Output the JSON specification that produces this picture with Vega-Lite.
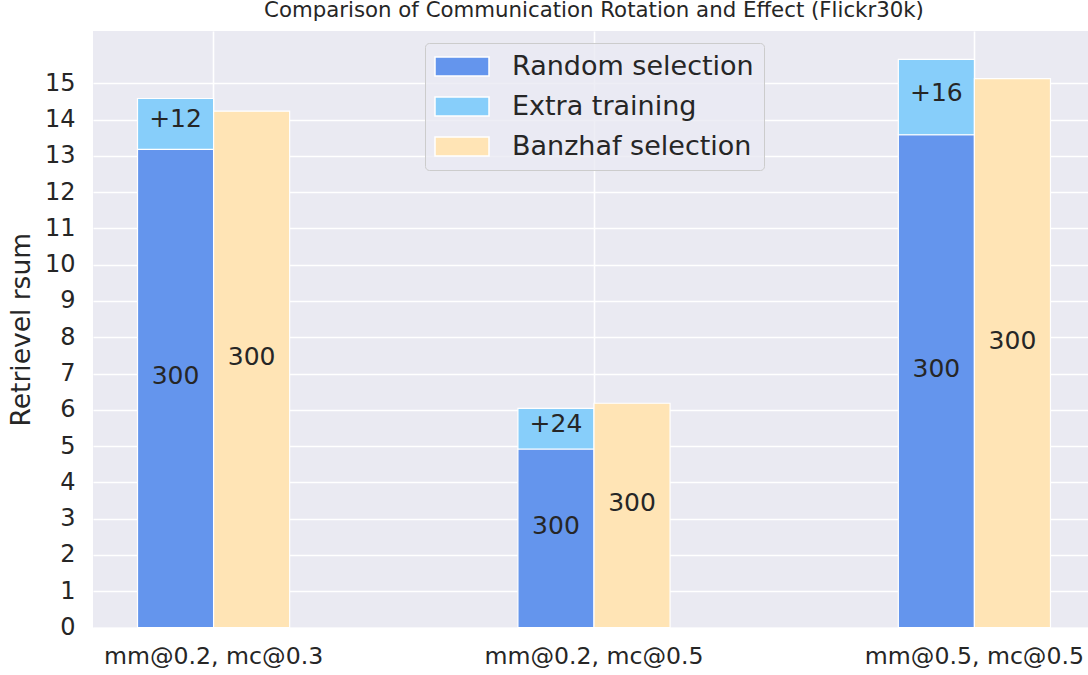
{
  "$schema": "https://vega.github.io/schema/vega-lite/v6.json",
  "width": 995,
  "height": 596.5,
  "autosize": {"type": "none"},
  "padding": {"left": 93, "top": 31, "right": 0, "bottom": 47},
  "background": "white",
  "title": {
    "text": "Comparison of Communication Rotation and Effect (Flickr30k)",
    "fontSize": 21.3, "fontWeight": "normal", "font": "DejaVu Sans", "color": "#262626",
    "baseline": "alphabetic", "offset": 11, "anchor": "middle", "frame": "group", "dx": 3.5, "dy": 18.5
  },
  "config": {
    "view": {"fill": "#EAEAF2", "stroke": null},
    "font": "DejaVu Sans",
    "axis": {
      "domain": false, "ticks": false, "gridColor": "white", "gridWidth": 1.6,
      "labelColor": "#262626", "labelFont": "DejaVu Sans",
      "titleColor": "#262626", "titleFont": "DejaVu Sans", "titleFontWeight": "normal"
    }
  },
  "data": {
    "values": [
      {"group": "mm@0.2, mc@0.3", "method": "Random", "series": "Random selection", "value": 13.18, "label": "300"},
      {"group": "mm@0.2, mc@0.3", "method": "Random", "series": "Extra training", "value": 1.40, "label": "+12"},
      {"group": "mm@0.2, mc@0.3", "method": "Banzhaf", "series": "Banzhaf selection", "value": 14.23, "label": "300"},
      {"group": "mm@0.2, mc@0.5", "method": "Random", "series": "Random selection", "value": 4.92, "label": "300"},
      {"group": "mm@0.2, mc@0.5", "method": "Random", "series": "Extra training", "value": 1.12, "label": "+24"},
      {"group": "mm@0.2, mc@0.5", "method": "Banzhaf", "series": "Banzhaf selection", "value": 6.18, "label": "300"},
      {"group": "mm@0.5, mc@0.5", "method": "Random", "series": "Random selection", "value": 13.58, "label": "300"},
      {"group": "mm@0.5, mc@0.5", "method": "Random", "series": "Extra training", "value": 2.08, "label": "+16"},
      {"group": "mm@0.5, mc@0.5", "method": "Banzhaf", "series": "Banzhaf selection", "value": 15.13, "label": "300"}
    ]
  },
  "encoding": {
    "x": {
      "field": "group", "type": "nominal", "sort": null,
      "scale": {"paddingInner": 0.6, "paddingOuter": 0.117, "range": [0, 1002]},
      "axis": {"title": null, "labelAngle": 0, "labelFontSize": 23.6, "labelPadding": 16.5, "labelLimit": 400, "grid": true, "bandPosition": 0.5}
    },
    "xOffset": {"field": "method", "type": "nominal", "scale": {"domain": ["Random", "Banzhaf"]}},
    "y": {
      "field": "value", "type": "quantitative", "stack": "zero",
      "scale": {"domain": [0, 16.44], "nice": false, "zero": true},
      "axis": {
        "title": "Retrievel rsum", "titleFontSize": 26.5, "titlePadding": 9,
        "values": [0,1,2,3,4,5,6,7,8,9,10,11,12,13,14,15],
        "labelFontSize": 24, "labelPadding": 18, "grid": true
      }
    },
    "order": {"field": "series", "sort": "descending"}
  },
  "layer": [
    {
      "mark": {"type": "bar", "stroke": "white", "strokeWidth": 1.2, "opacity": 1},
      "encoding": {
        "color": {
          "field": "series", "type": "nominal",
          "scale": {"domain": ["Random selection", "Extra training", "Banzhaf selection"], "range": ["#6495ED", "#87CEFA", "#FFE4B5"]},
          "legend": {
            "title": null, "orient": "none", "legendX": 332, "legendY": 12,
            "symbolType": "M-1.35,-0.95H4.05V0.95H-1.35Z", "symbolSize": 400,
            "symbolStrokeColor": "white", "symbolStrokeWidth": 1.5, "symbolOpacity": 1,
            "labelFontSize": 27, "labelFont": "DejaVu Sans", "labelColor": "#262626",
            "labelOffset": 50, "rowPadding": 12, "padding": 10, "labelLimit": 400,
            "fillColor": "rgba(234,234,242,0.8)", "strokeColor": "#CCCCCC", "cornerRadius": 4
          }
        }
      }
    },
    {
      "mark": {"type": "text", "fontSize": 25, "font": "DejaVu Sans", "color": "#262626", "baseline": "middle", "dy": -12.5},
      "encoding": {
        "y": {"field": "value", "type": "quantitative", "stack": "zero", "bandPosition": 0.5},
        "detail": {"field": "series"},
        "text": {"field": "label"},
        "opacity": {"condition": {"test": "datum.series !== 'Extra training'", "value": 1}, "value": 0}
      }
    },
    {
      "mark": {"type": "text", "fontSize": 25, "font": "DejaVu Sans", "color": "#262626", "baseline": "middle", "dy": -4.5},
      "encoding": {
        "y": {"field": "value", "type": "quantitative", "stack": "zero", "bandPosition": 0.5},
        "detail": {"field": "series"},
        "text": {"field": "label"},
        "opacity": {"condition": {"test": "datum.series === 'Extra training'", "value": 1}, "value": 0}
      }
    }
  ]
}
